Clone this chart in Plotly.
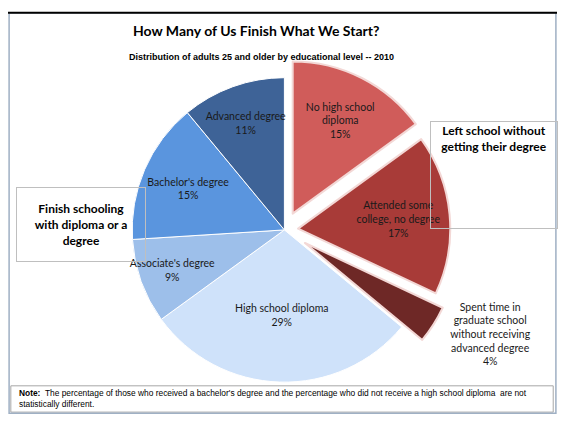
import plotly.graph_objects as go

# slices, clockwise from 12 o'clock
labels = ["No high school diploma", "Attended some college, no degree",
          "Spent time in graduate school without receiving advanced degree",
          "High school diploma", "Associate's degree", "Bachelor's degree",
          "Advanced degree"]
shares = [15, 17, 4, 29, 9, 15, 11]
slice_text = ["No high school<br>diploma<br>15%",
              "Attended some<br>college, no degree<br>17%",
              "Spent time in<br>graduate school<br>without receiving<br>advanced degree<br>4%",
              "High school diploma<br>29%",
              "Associate's degree<br>9%",
              "Bachelor's degree<br>15%",
              "Advanced degree<br>11%"]
pulls = [0.12, 0.09, 0.16, 0, 0, 0, 0]
colors = ["#D05C5A", "#A83B38", "#6E2826", "#CFE2FA", "#9DBFEA", "#5A95DE", "#3E6397"]
edge = ["#F3D8D6", "#F3D8D6", "#F3D8D6", "#FFFFFF", "#FFFFFF", "#FFFFFF", "#FFFFFF"]

title = "How Many of Us Finish What We Start?"
subtitle = "Distribution of adults 25 and older by educational level -- 2010"
note = ("<b>Note:</b>  The percentage of those who received a bachelor's degree and the "
        "percentage who did not receive a high school diploma  are not<br>statistically different.")

fig = go.Figure(go.Pie(
    labels=labels,
    values=shares,
    text=slice_text,
    textinfo="text",
    textposition=["inside", "inside", "outside", "inside", "inside", "inside", "inside"],
    insidetextorientation="horizontal",
    textfont=dict(family="Lato, sans-serif", size=10.5, color="#1a1a1a"),
    sort=False,
    direction="clockwise",
    rotation=0,
    pull=pulls,
    marker=dict(colors=colors, line=dict(color=edge, width=[2, 2, 2, 1, 1, 1, 1])),
    domain=dict(x=[0.1793, 0.8276], y=[0.0187, 0.8972]),
    hoverinfo="label+percent",
    showlegend=False,
))

fig.update_layout(
    width=580, height=428,
    margin=dict(l=0, r=0, t=0, b=0),
    paper_bgcolor="white",
    uniformtext=dict(minsize=10.5, mode="show"),
    annotations=[
        dict(text=f"<b>{title}</b>", x=262 / 580, y=1 - 20 / 428, xref="paper", yref="paper",
             xanchor="center", yanchor="middle", showarrow=False,
             font=dict(family="Lato, sans-serif", size=14, color="#000")),
        dict(text=f"<b>{subtitle}</b>", x=268 / 580, y=1 - 48 / 428, xref="paper", yref="paper",
             xanchor="center", yanchor="middle", showarrow=False,
             font=dict(family="Liberation Sans, Arial, sans-serif", size=9, color="#000")),
        dict(text="<b>Left school without<br>getting their degree</b>",
             x=513 / 580, y=1 - 174 / 428, xref="paper", yref="paper", showarrow=False,
             xanchor="center", yanchor="middle",
             width=124, height=104, valign="top", align="center",
             bordercolor="#bfbfbf", borderwidth=1, borderpad=1,
             font=dict(family="Lato, sans-serif", size=12, color="#000")),
        dict(text="<b>Finish schooling<br>with diploma or a<br>degree</b>",
             x=77 / 580, y=1 - 226.5 / 428, xref="paper", yref="paper", showarrow=False,
             xanchor="center", yanchor="middle",
             width=126, height=71, valign="middle", align="center",
             bordercolor="#bfbfbf", borderwidth=1, borderpad=1,
             font=dict(family="Lato, sans-serif", size=12, color="#000")),
        dict(text=note, x=10 / 580, y=1 - 412 / 428, xref="paper", yref="paper",
             xanchor="left", yanchor="middle", align="left", showarrow=False,
             font=dict(family="Liberation Sans, Arial, sans-serif", size=8.4, color="#000")),
    ],
    shapes=[
        dict(type="rect", xref="paper", yref="paper", x0=3 / 580, x1=576 / 580,
             y0=1 - 426 / 428, y1=1 - 398 / 428, line=dict(color="#a6a6a6", width=1)),
        dict(type="rect", xref="paper", yref="paper", x0=0.002, x1=0.998, y0=0.002, y1=0.998,
             line=dict(color="#9fb0c4", width=1.5)),
        dict(type="line", xref="paper", yref="paper", x0=0, x1=1, y0=0.998, y1=0.998,
             line=dict(color="#000", width=2)),
    ],
)

fig.write_html("out.html", config={"displayModeBar": False})
